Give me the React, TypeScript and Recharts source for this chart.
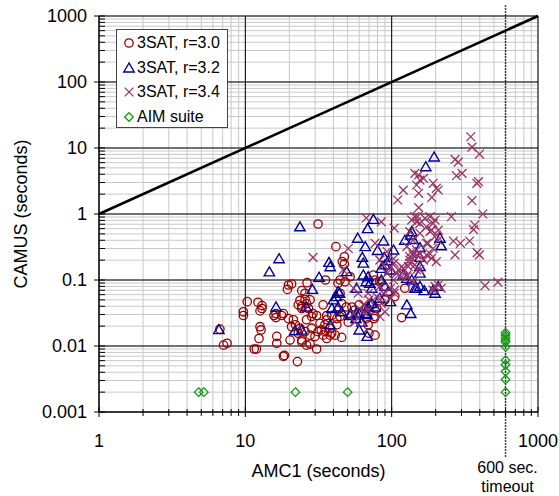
import React from "react"
import {
  CartesianGrid,
  Label,
  Legend,
  ReferenceLine,
  Scatter,
  ScatterChart,
  XAxis,
  YAxis,
} from "recharts"

// [AMC1 seconds, CAMUS seconds]
type Pt = [number, number]

const sat30: Pt[] = [
  [6.7, 0.018], [7.1, 0.0103], [7.5, 0.011],
  [9.7, 0.033], [9.7, 0.029], [10.3, 0.047], [12.2, 0.046], [13, 0.041], [12.6, 0.034], [13, 0.037],
  [12.6, 0.0196], [12.8, 0.0175], [12.4, 0.013], [11.5, 0.009], [11.9, 0.009],
  [16.2, 0.031], [16.2, 0.027], [15.7, 0.029], [18.2, 0.031], [16.4, 0.014], [16.4, 0.011],
  [31.4, 0.705], [41.6, 0.32], [47.5, 0.225], [46, 0.19], [47.5, 0.175],
  [35.3, 0.1], [26.4, 0.091], [20.7, 0.087], [19.4, 0.072], [19.7, 0.084], [24.3, 0.069], [25.6, 0.063],
  [25.6, 0.051], [23.6, 0.049], [23, 0.042], [24.3, 0.04], [26.2, 0.044], [27.7, 0.05], [27, 0.037], [24.3, 0.037],
  [17.7, 0.029], [19.7, 0.026], [21.3, 0.025], [22, 0.021], [20.7, 0.0196], [26.2, 0.025], [28.4, 0.028],
  [30.7, 0.029], [29, 0.031], [32.4, 0.022], [35, 0.021], [36, 0.025], [34, 0.042], [36, 0.029], [38.9, 0.029],
  [42.2, 0.026], [42.2, 0.021],
  [28.4, 0.0186], [31.4, 0.0165], [34, 0.0146], [29.9, 0.0139], [36, 0.013], [27.7, 0.0146], [23.6, 0.0186],
  [23, 0.0156], [25.6, 0.0165], [33, 0.0175], [38, 0.0146],
  [20.2, 0.0123], [24.3, 0.0123], [26.2, 0.0103], [24.3, 0.0116], [27.7, 0.0107], [30.7, 0.009],
  [18.5, 0.0072], [18.2, 0.007], [22.7, 0.0058],
  [35, 0.0165], [38.9, 0.0156], [41.1, 0.0146], [37.8, 0.0186], [45.5, 0.0135],
  [44.4, 0.1], [43, 0.089], [48, 0.094], [52, 0.112], [44.4, 0.063],
  [45.5, 0.044], [49, 0.039], [43, 0.035], [44.4, 0.028], [50.5, 0.023],
  [53.5, 0.039], [56, 0.035], [60, 0.042], [67, 0.037], [73, 0.042], [77, 0.028], [67, 0.026], [76, 0.026],
  [69, 0.021], [70, 0.0156], [77, 0.0146],
  [75, 0.119], [77, 0.1], [83, 0.094], [88, 0.08], [79, 0.037], [90, 0.05], [105, 0.056], [117, 0.027], [123, 0.075],
]

const sat32: Pt[] = [
  [6.6, 0.0177], [14.6, 0.133], [16.2, 0.039], [17, 0.21], [23.6, 0.64], [37.3, 0.185], [38, 0.159],
  [31.9, 0.11], [28.7, 0.072], [26, 0.039], [21.8, 0.017], [24.3, 0.0174],
  [195, 7.3], [171, 5.2], [75, 0.83], [68.5, 0.6], [58.6, 0.43], [88, 0.39], [66, 0.32], [80, 0.28],
  [63, 0.22], [64, 0.18], [103, 0.285], [123, 0.4], [140, 0.41], [135, 0.48], [137, 0.54],
  [89, 0.22], [95, 0.196], [90, 0.17], [85, 0.15], [98, 0.142], [49.3, 0.134], [64, 0.119], [69, 0.112],
  [67, 0.094], [71, 0.089], [73, 0.075], [85, 0.1], [90, 0.08], [95, 0.067], [57.5, 0.075], [43, 0.067],
  [41.9, 0.056], [45.5, 0.033], [52, 0.029], [57.5, 0.031], [66, 0.031], [69, 0.039], [73, 0.044], [77, 0.039],
  [144, 0.075], [156, 0.08], [135, 0.031], [127, 0.106], [137, 0.1], [120, 0.119], [83, 0.053], [98, 0.047],
  [214, 0.43], [218, 0.33], [156, 0.31], [156, 0.22], [156, 0.16], [156, 0.127], [167, 0.069], [192, 0.07],
  [208, 0.08], [198, 0.063], [148, 0.075],
  [44, 0.063], [40, 0.05], [39, 0.037], [43, 0.039], [52.5, 0.031], [57, 0.026], [60, 0.031], [62.6, 0.023],
  [68, 0.03], [60, 0.0175], [68, 0.014], [38, 0.021], [127, 0.042],
]

const sat34: Pt[] = [
  [29, 0.22], [46.6, 0.142],
  [144, 4.13], [156, 3.27], [148, 2.75], [165, 3.47], [153, 3.9], [120, 2.3], [110, 1.63], [153, 2.06],
  [153, 1.25], [150, 0.91], [156, 0.72],
  [67, 0.87], [85, 0.76], [104, 0.61], [50.5, 0.3], [77, 0.36], [93, 0.27], [103, 0.21],
  [127, 0.32], [137, 0.27], [148, 0.24], [133, 0.2], [117, 0.16], [108, 0.126], [156, 0.142], [103, 0.1],
  [117, 0.112], [98, 0.075], [105, 0.07], [79, 0.056], [85, 0.044], [90, 0.033], [83, 0.028], [69, 0.035],
  [64, 0.042], [55, 0.031], [56, 0.023],
  [347, 14.8], [354, 10.3], [398, 8.1], [271, 6.7], [285, 6.1], [277, 3.8], [303, 4.13], [392, 3.09],
  [382, 2.92], [192, 2.92], [202, 2.45], [208, 2.31], [188, 1.78],
  [354, 1.59], [256, 0.91], [420, 1.0], [370, 0.68], [363, 0.58], [341, 0.39], [264, 0.39], [295, 0.36],
  [271, 0.24], [384, 0.26], [398, 0.24], [434, 0.082], [532, 0.093],
  [169, 0.86], [183, 0.91], [198, 0.81], [173, 0.64], [187, 0.57], [208, 0.57], [202, 0.48], [177, 0.36],
  [192, 0.3], [183, 0.25], [202, 0.19], [198, 0.08], [218, 0.075],
  [137, 0.81], [144, 0.91], [148, 0.76], [192, 0.72], [133, 0.54], [156, 0.51], [183, 0.54], [140, 0.4],
  [173, 0.36], [208, 0.4], [148, 0.285], [133, 0.226], [165, 0.2], [130, 0.16], [148, 0.142], [127, 0.112],
  [140, 0.094], [208, 0.084], [192, 0.07],
  [83, 0.2], [88, 0.17], [98, 0.16], [104, 0.18], [93, 0.126], [111, 0.142], [120, 0.15], [127, 0.119],
  [133, 0.18], [144, 0.17], [140, 0.24], [156, 0.25], [173, 0.24], [187, 0.213],
  [70, 0.05], [69, 0.063], [64, 0.033], [83, 0.08], [88, 0.063], [59, 0.063], [55, 0.075], [98, 0.053], [104, 0.063],
]

const aimSuite: Pt[] = [
  [4.8, 0.002], [5.2, 0.002], [22, 0.002], [50, 0.002],
  [600, 0.0159], [600, 0.0147], [600, 0.0135], [600, 0.0123], [600, 0.0115], [600, 0.0097],
  [600, 0.0061], [600, 0.0052], [600, 0.0041], [600, 0.0031], [600, 0.002],
]

const seriesNames = ["3SAT, r=3.0", "3SAT, r=3.2", "3SAT, r=3.4", "AIM suite"]

const majorX = [1, 10, 100, 1000]
const xTickLabels = ["1", "10", "100", "1000"]
const majorY = [0.001, 0.01, 0.1, 1, 10, 100, 1000]
const yTickLabels = ["0.001", "0.01", "0.1", "1", "10", "100", "1000"]
const minorSteps = [2, 3, 4, 5, 6, 7, 8, 9]
const timeoutSec = 600

const withMinors = (majors: number[]) => {
  const out: number[] = []
  majors.forEach((m, i) => {
    out.push(m)
    if (i < majors.length - 1) minorSteps.forEach((s) => out.push(m * s))
  })
  return out
}
const xTicks = withMinors(majorX)
const yTicks = withMinors(majorY)

const toRows = (pts: Pt[]) => pts.map(([x, y]) => ({ x, y }))

const RED = "#990000"
const BLUE = "#000099"
const PURPLE = "#993366"
const GREEN = "#119911"
const FONT = "'Liberation Sans', Arial, Helvetica, sans-serif"

function CircleMark({ cx, cy }: any) {
  return <circle cx={cx} cy={cy} r={4.2} fill="none" stroke={RED} strokeWidth={1.3} />
}
function TriangleMark({ cx, cy }: any) {
  return (
    <polygon
      points={`${cx},${cy - 5} ${cx - 5.2},${cy + 4} ${cx + 5.2},${cy + 4}`}
      fill="none"
      stroke={BLUE}
      strokeWidth={1.4}
    />
  )
}
function CrossMark({ cx, cy }: any) {
  const d = 4.4
  return (
    <path
      d={`M${cx - d},${cy - d}L${cx + d},${cy + d}M${cx - d},${cy + d}L${cx + d},${cy - d}`}
      stroke={PURPLE}
      strokeWidth={1.3}
    />
  )
}
function DiamondMark({ cx, cy }: any) {
  const d = 4.3
  return (
    <polygon
      points={`${cx},${cy - d} ${cx + d},${cy} ${cx},${cy + d} ${cx - d},${cy}`}
      fill="none"
      stroke={GREEN}
      strokeWidth={1.3}
    />
  )
}

const marks = [CircleMark, TriangleMark, CrossMark, DiamondMark]

function XTick({ x, y, payload }: any) {
  const i = majorX.indexOf(payload.value)
  if (i < 0) return <line x1={x} x2={x} y1={y - 3} y2={y + 4} stroke="#000" />
  return (
    <g>
      <line x1={x} x2={x} y1={y - 5} y2={y + 5} stroke="#000" />
      <text x={x} y={y + 35} textAnchor="middle" fontSize={18} fontFamily={FONT} fill="#000">
        {xTickLabels[i]}
      </text>
    </g>
  )
}

function YTick({ x, y, payload }: any) {
  const i = majorY.indexOf(payload.value)
  if (i < 0) return <line x1={x} x2={x + 6} y1={y} y2={y} stroke="#000" />
  return (
    <g>
      <line x1={x - 5} x2={x + 6} y1={y} y2={y} stroke="#000" />
      <text x={x - 12} y={y} dy="0.36em" textAnchor="end" fontSize={18} fontFamily={FONT} fill="#000">
        {yTickLabels[i]}
      </text>
    </g>
  )
}

function LegendBox() {
  return (
    <div
      style={{
        width: 112,
        height: 99,
        boxSizing: "border-box",
        border: "1px solid #444",
        background: "#fff",
        paddingTop: 1,
        fontFamily: FONT,
        fontSize: 16,
        color: "#000",
      }}
    >
      {seriesNames.map((name, i) => {
        const Mark = marks[i]
        return (
          <div key={name} style={{ height: 24.6, display: "flex", alignItems: "center" }}>
            <svg width={14} height={14} style={{ marginLeft: 5, marginRight: 1 }}>
              <Mark cx={7} cy={7} />
            </svg>
            <span style={{ whiteSpace: "nowrap" }}>{name}</span>
          </div>
        )
      })}
    </div>
  )
}

export default function App() {
  return (
    <div style={{ position: "absolute", left: 0, top: 0, width: 559, height: 496, background: "#fff", fontFamily: FONT }}>
      <ScatterChart width={559} height={496} margin={{ top: 16, right: 21, bottom: 82, left: 97 }}>
        <CartesianGrid stroke="#c8c8c8" strokeWidth={1} />
        <XAxis
          type="number"
          dataKey="x"
          scale="log"
          domain={[1, 1000]}
          ticks={xTicks}
          interval={0}
          height={2}
          tickSize={0}
          tickMargin={0}
          tickLine={false}
          axisLine={{ stroke: "#000" }}
          tick={(p: any) => <XTick {...p} />}
          allowDataOverflow
        >
          <Label
            position="bottom"
            content={({ viewBox }: any) => (
              <text
                x={viewBox.x + viewBox.width / 2}
                y={viewBox.y + 65}
                textAnchor="middle"
                fontSize={18}
                fontFamily={FONT}
                fill="#000"
              >
                AMC1 (seconds)
              </text>
            )}
          />
        </XAxis>
        <YAxis
          type="number"
          dataKey="y"
          scale="log"
          domain={[0.001, 1000]}
          ticks={yTicks}
          interval={0}
          width={2}
          tickSize={0}
          tickMargin={0}
          tickLine={false}
          axisLine={{ stroke: "#000" }}
          tick={(p: any) => <YTick {...p} />}
          allowDataOverflow
        >
          <Label
            position="left"
            content={({ viewBox }: any) => {
              const cx = viewBox.x + viewBox.width - 78
              const cy = viewBox.y + viewBox.height / 2
              return (
                <text
                  x={cx}
                  y={cy}
                  transform={`rotate(-90 ${cx} ${cy})`}
                  textAnchor="middle"
                  dy="0.35em"
                  fontSize={18}
                  fontFamily={FONT}
                  fill="#000"
                >
                  CAMUS (seconds)
                </text>
              )
            }}
          />
        </YAxis>
        {majorX.map((v) => (
          <ReferenceLine key={`mx${v}`} x={v} stroke="#000" strokeWidth={1} />
        ))}
        {majorY.map((v) => (
          <ReferenceLine key={`my${v}`} y={v} stroke="#000" strokeWidth={1} />
        ))}
        <ReferenceLine
          segment={[
            { x: 1, y: 1 },
            { x: 1000, y: 1000 },
          ]}
          stroke="#000"
          strokeWidth={2.6}
        />
        <ReferenceLine
          segment={[
            { x: timeoutSec, y: 0.00021 },
            { x: timeoutSec, y: 1450 },
          ]}
          ifOverflow="visible"
          stroke="#000"
          strokeWidth={1.5}
          strokeDasharray="1.5 1.5"
          label={({ viewBox }: any) => {
            const bx = viewBox.x + 2
            const by = viewBox.y + viewBox.height
            return (
              <g>
                <text x={bx} y={by + 16} textAnchor="middle" fontSize={16} fontFamily={FONT} fill="#000">
                  600 sec.
                </text>
                <text x={bx} y={by + 35} textAnchor="middle" fontSize={16} fontFamily={FONT} fill="#000">
                  timeout
                </text>
              </g>
            )
          }}
        />
        <Scatter name={seriesNames[0]} data={toRows(sat30)} shape={(p: any) => <CircleMark {...p} />} isAnimationActive={false} />
        <Scatter name={seriesNames[1]} data={toRows(sat32)} shape={(p: any) => <TriangleMark {...p} />} isAnimationActive={false} />
        <Scatter name={seriesNames[2]} data={toRows(sat34)} shape={(p: any) => <CrossMark {...p} />} isAnimationActive={false} />
        <Scatter name={seriesNames[3]} data={toRows(aimSuite)} shape={(p: any) => <DiamondMark {...p} />} isAnimationActive={false} />
        <Legend
          layout="vertical"
          align="center"
          verticalAlign="middle"
          wrapperStyle={{ left: 116, top: 29, width: "auto" }}
          content={() => <LegendBox />}
        />
      </ScatterChart>
    </div>
  )
}
